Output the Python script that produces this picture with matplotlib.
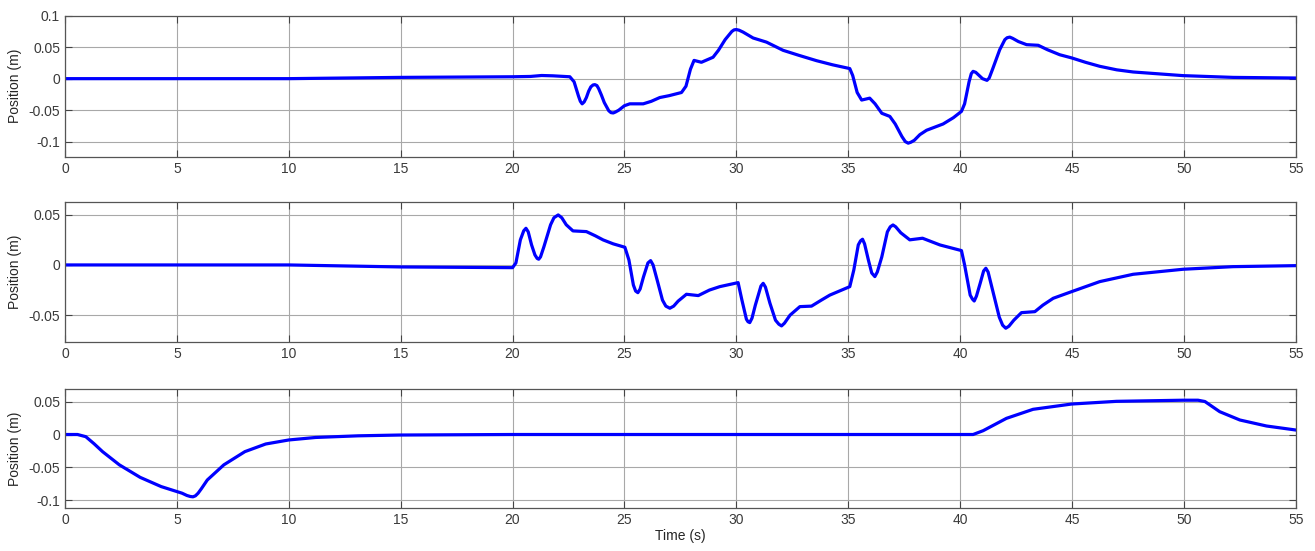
import matplotlib
matplotlib.use("Agg")
import matplotlib.pyplot as plt

plt.rcParams['font.family'] = ['Liberation Sans', 'DejaVu Sans']

# top panel
t1 = [0, 10, 12.5, 15, 20, 20.8, 21.3, 21.8, 22.56, 22.75, 22.95, 23.03, 23.11, 23.2,
      23.3, 23.4, 23.5, 23.6, 23.68, 23.77, 23.85, 23.97, 24.1, 24.3, 24.4, 24.5, 24.6,
      24.75, 25.0, 25.24, 25.84, 26.2, 26.58, 27.0, 27.55, 27.75, 27.95, 28.11, 28.44,
      28.96, 29.2, 29.5, 29.8, 29.9, 30.0, 30.12, 30.3, 30.75, 31.35, 32.09, 32.8, 33.58,
      34.3, 35.07, 35.2, 35.4, 35.6, 35.96, 36.2, 36.5, 36.86, 37.1, 37.4, 37.55, 37.68,
      37.8, 37.95, 38.2, 38.5, 39.24, 39.7, 40.06, 40.2, 40.4, 40.5, 40.58, 40.7, 40.85,
      41.0, 41.2, 41.3, 41.45, 41.77, 42.0, 42.1, 42.22, 42.35, 42.6, 42.97, 43.49, 43.9,
      44.45, 44.98, 45.6, 46.24, 47.0, 47.73, 49.96, 52.2, 55]
y1 = [0, 0, 0.001, 0.002, 0.003, 0.0035, 0.005, 0.0045, 0.003, -0.005, -0.028, -0.036,
      -0.040, -0.037, -0.030, -0.020, -0.013, -0.010, -0.0095, -0.011, -0.016, -0.026,
      -0.038, -0.051, -0.054, -0.0545, -0.053, -0.050, -0.043, -0.040, -0.040, -0.036,
      -0.030, -0.027, -0.022, -0.012, 0.015, 0.029, 0.026, 0.034, 0.045, 0.062, 0.075,
      0.0775, 0.078, 0.077, 0.074, 0.0646, 0.058, 0.045, 0.037, 0.0286, 0.022, 0.016,
      0.005, -0.022, -0.034, -0.031, -0.040, -0.055, -0.060, -0.072, -0.092, -0.100,
      -0.1025, -0.101, -0.098, -0.089, -0.082, -0.072, -0.062, -0.052, -0.040, -0.005,
      0.008, 0.0116, 0.010, 0.005, 0.000, -0.0027, 0.001, 0.015, 0.046, 0.062, 0.065,
      0.066, 0.064, 0.059, 0.054, 0.053, 0.046, 0.038, 0.033, 0.026, 0.0196, 0.014,
      0.0106, 0.0048, 0.002, 0.001]

# middle panel
t2 = [0, 10, 12.5, 15, 20.0, 20.15, 20.35, 20.5, 20.6, 20.7, 20.85, 21.0, 21.1, 21.17,
      21.25, 21.4, 21.7, 21.85, 22.04, 22.2, 22.4, 22.7, 23.3, 23.7, 24.05, 24.5, 25.02,
      25.2, 25.4, 25.5, 25.6, 25.7, 25.85, 26.05, 26.17, 26.28, 26.45, 26.7, 26.85, 27.03,
      27.2, 27.4, 27.77, 28.3, 28.8, 29.26, 30.08, 30.25, 30.45, 30.52, 30.6, 30.7, 30.85,
      31.1, 31.2, 31.3, 31.5, 31.75, 31.9, 32.02, 32.15, 32.4, 32.84, 33.36, 33.8, 34.18,
      35.07, 35.25, 35.45, 35.55, 35.64, 35.73, 35.9, 36.05, 36.19, 36.3, 36.5, 36.75,
      36.88, 37.0, 37.12, 37.35, 37.75, 38.32, 39.1, 40.06, 40.2, 40.45, 40.55, 40.63,
      40.73, 40.9, 41.05, 41.15, 41.25, 41.45, 41.75, 41.9, 42.04, 42.18, 42.4, 42.74,
      43.34, 43.7, 44.16, 44.98, 46.24, 47.73, 49.96, 52.2, 55]
y2 = [0, 0, -0.001, -0.002, -0.0027, 0.002, 0.025, 0.034, 0.0365, 0.033, 0.020, 0.010,
      0.0065, 0.0057, 0.008, 0.018, 0.040, 0.047, 0.0498, 0.047, 0.040, 0.0339, 0.0332,
      0.029, 0.0249, 0.021, 0.0176, 0.005, -0.020, -0.026, -0.0276, -0.024, -0.012, 0.002,
      0.0043, 0.000, -0.014, -0.035, -0.041, -0.0431, -0.041, -0.036, -0.0292, -0.0305,
      -0.025, -0.0216, -0.0176, -0.035, -0.054, -0.0565, -0.0574, -0.053, -0.040, -0.021,
      -0.0183, -0.022, -0.038, -0.055, -0.059, -0.0607, -0.058, -0.050, -0.0415, -0.041,
      -0.035, -0.030, -0.0216, -0.005, 0.020, 0.024, 0.0256, 0.021, 0.005, -0.008, -0.0116,
      -0.007, 0.008, 0.033, 0.038, 0.0398, 0.038, 0.032, 0.025, 0.0266, 0.0199, 0.0143,
      0.000, -0.030, -0.034, -0.0359, -0.031, -0.018, -0.006, -0.0033, -0.007, -0.025,
      -0.052, -0.060, -0.063, -0.061, -0.055, -0.0475, -0.0465, -0.040, -0.0332, -0.0266,
      -0.0166, -0.0093, -0.0043, -0.0017, -0.0007]

# bottom panel
t3 = [0, 0.56, 0.93, 1.3, 1.68, 2.43, 3.36, 4.3, 5.23, 5.45, 5.6, 5.72, 5.83, 5.95, 6.1,
      6.36, 7.1, 8.04, 8.97, 10, 11.2, 13.1, 14.95, 20, 40.58, 41.03, 42.07, 43.26, 44.98,
      46.99, 49.96, 50.63, 50.94, 51.6, 52.5, 53.69, 55]
y3 = [0, 0, -0.0033, -0.014, -0.026, -0.046, -0.065, -0.079, -0.089, -0.0925, -0.094,
      -0.0945, -0.093, -0.089, -0.082, -0.069, -0.046, -0.026, -0.0144, -0.0083, -0.0045,
      -0.002, -0.0008, 0, 0, 0.0058, 0.0245, 0.0382, 0.0462, 0.0503, 0.052, 0.052, 0.050,
      0.0346, 0.022, 0.0129, 0.0068]

xticks = list(range(0, 56, 5))
yticks1 = [-0.1, -0.05, 0, 0.05, 0.1]
ylabels1 = ['-0.1', '-0.05', '0', '0.05', '0.1']
yticks2 = [-0.05, 0, 0.05]
ylabels2 = ['-0.05', '0', '0.05']
yticks3 = [-0.1, -0.05, 0, 0.05]
ylabels3 = ['-0.1', '-0.05', '0', '0.05']

fig = plt.figure(figsize=(13.15, 5.51), dpi=100)
boxes = [[0.0494, 0.7156, 0.936, 0.2559],
         [0.0494, 0.3788, 0.936, 0.2541],
         [0.0494, 0.0786, 0.936, 0.2154]]
data = [(t1, y1, (-0.124, 0.1), yticks1, ylabels1),
        (t2, y2, (-0.077, 0.0624), yticks2, ylabels2),
        (t3, y3, (-0.111, 0.069), yticks3, ylabels3)]

for box, (t, y, lim, yt, yl) in zip(boxes, data):
    ax = fig.add_axes(box)
    ax.plot(t, y, color='#0000ff', lw=2.3, solid_joinstyle='round')
    ax.set_xlim(0, 55)
    ax.set_ylim(*lim)
    ax.set_xticks(xticks)
    ax.set_xticklabels([str(v) for v in xticks])
    ax.set_yticks(yt)
    ax.set_yticklabels(yl)
    ax.grid(True, color='#a8a8a8', lw=0.8)
    ax.set_axisbelow(True)
    ax.tick_params(direction='in', top=True, right=True, length=5, width=0.8,
                   colors='#444444', labelsize=10, labelcolor='#3a3a3a')
    for s in ax.spines.values():
        s.set_color('#555555')
        s.set_linewidth(0.9)
    ax.set_ylabel('Position (m)', fontsize=10, color='#262626', labelpad=5)

ax.set_xlabel('Time (s)', fontsize=10, color='#262626', labelpad=2)

fig.savefig('out.png', dpi=100)
